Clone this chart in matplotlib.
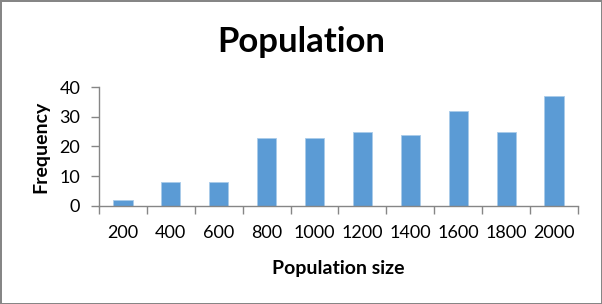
import matplotlib
matplotlib.use("Agg")
import matplotlib.pyplot as plt
import numpy as np

# data
sizes = ["200", "400", "600", "800", "1000", "1200", "1400", "1600", "1800", "2000"]
frequency = [2, 8, 8, 23, 23, 25, 24, 32, 25, 37]

axis_gray = "#868686"
bar_blue = "#5B9BD5"

plt.rcParams['font.family'] = ['Lato', 'DejaVu Sans']

fig = plt.figure(figsize=(6.02, 3.04), dpi=100)
fig.patch.set_edgecolor(axis_gray)
fig.patch.set_linewidth(2)

ax = fig.add_axes([0.1645, 0.3224, 0.7955, 0.3914])

x = np.arange(len(sizes))
ax.bar(x, frequency, width=0.4, color=bar_blue, edgecolor="#A9CBEA", linewidth=0.6, zorder=2)

ax.set_xlim(-0.5, len(sizes) - 0.5)
ax.set_ylim(0, 40)
ax.set_yticks([0, 10, 20, 30, 40])

# labels at category centres, tick marks at the boundaries
ax.set_xticks(x, sizes)
ax.set_xticks(np.arange(-0.5, len(sizes)), minor=True)
ax.tick_params(axis="x", which="major", length=0, pad=14, labelsize=13, colors="#000000")
ax.tick_params(axis="x", which="minor", length=5.5, width=1, color=axis_gray, direction="out")
ax.tick_params(axis="y", length=5.5, width=1, color=axis_gray, pad=8, labelsize=13, labelcolor="#000000")

for side in ["top", "right"]:
    ax.spines[side].set_visible(False)
for side in ["left", "bottom"]:
    ax.spines[side].set_color(axis_gray)
    ax.spines[side].set_linewidth(1)

fig.text(0.5, 0.862, "Population", ha="center", va="center", fontsize=25, fontweight="bold")
fig.text(0.068, 0.518, "Frequency", ha="center", va="center", rotation=90, fontsize=14, fontweight="bold")
fig.text(0.562, 0.118, "Population size", ha="center", va="center", fontsize=14, fontweight="bold")

fig.savefig("out.png", dpi=100)
